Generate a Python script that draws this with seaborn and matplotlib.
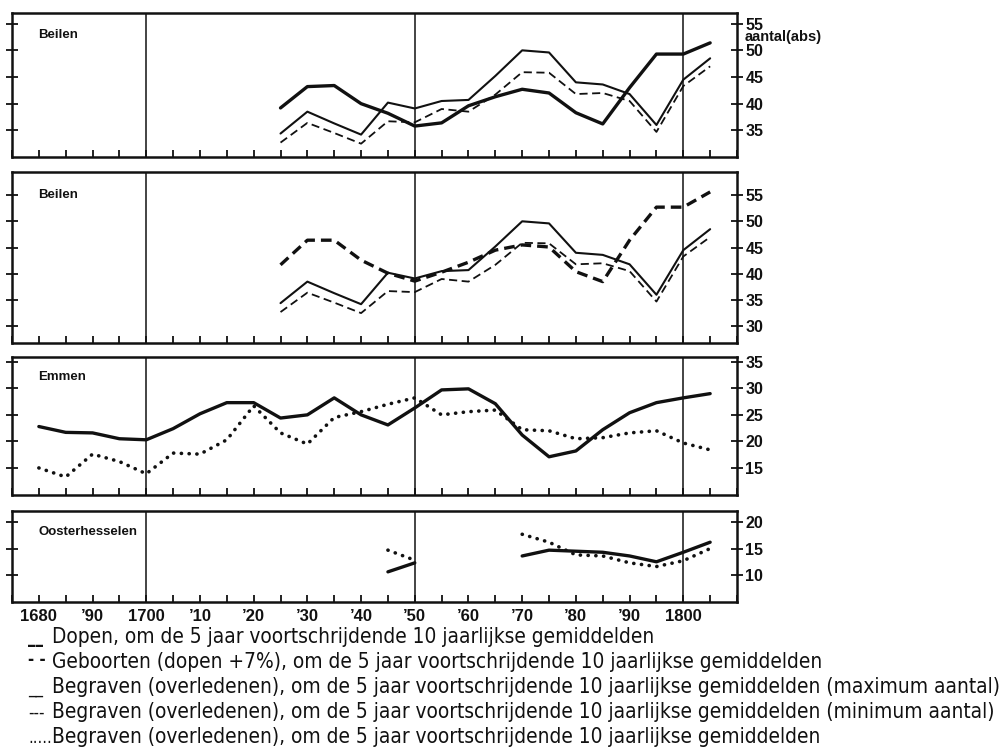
import numpy as np
import pandas as pd
import matplotlib
matplotlib.use("Agg")
import matplotlib.pyplot as plt
import seaborn as sns
from matplotlib import font_manager
from matplotlib.ticker import FixedLocator, MultipleLocator, NullFormatter

# ---------------- data ----------------
years = list(range(1680, 1810, 5))
beilen_years = list(range(1725, 1810, 5))
beilen_dopen = [39.2, 43.2, 43.4, 40.0, 38.2, 35.8, 36.4, 39.6, 41.3, 42.7,
                42.0, 38.3, 36.2, 43.0, 49.3, 49.3, 51.4]
beilen_geboorten = [41.7, 46.4, 46.4, 42.6, 40.1, 38.6, 40.3, 42.2, 44.5, 45.5,
                    45.1, 40.4, 38.5, 46.4, 52.7, 52.7, 55.6]
beilen_begr_max = [34.4, 38.5, 36.3, 34.2, 40.2, 39.1, 40.5, 40.7, 45.2, 50.0,
                   49.6, 44.0, 43.6, 41.8, 36.0, 44.5, 48.5]
beilen_begr_min = [32.7, 36.4, 34.5, 32.5, 36.7, 36.5, 39.0, 38.5, 41.7, 45.9,
                   45.8, 41.8, 42.0, 40.5, 34.7, 43.3, 47.0]
emmen_dopen = [22.8, 21.7, 21.6, 20.5, 20.3, 22.4, 25.2, 27.3, 27.3, 24.4,
               25.0, 28.2, 25.0, 23.1, 26.3, 29.7, 29.9, 27.1, 21.2, 17.1,
               18.2, 22.2, 25.4, 27.3, 28.2, 29.0]
emmen_begraven = [15.0, 13.3, 17.6, 16.2, 13.9, 17.8, 17.6, 20.3, 26.7, 21.6,
                  19.5, 24.5, 25.6, 27.0, 28.2, 25.0, 25.6, 25.9, 22.2, 22.0,
                  20.5, 20.7, 21.6, 22.0, 19.7, 18.4]
oost_years = [1745, 1750, 1770, 1775, 1780, 1785, 1790, 1795, 1800, 1805]
oost_dopen = [10.6, 12.3, 13.6, 14.7, 14.5, 14.3, 13.6, 12.5, 14.3, 16.2]
oost_begraven = [14.7, 12.8, 17.7, 16.2, 13.8, 13.6, 12.3, 11.6, 12.7, 15.0]

panel_names = ["Beilen", "Beilen", "Emmen", "Oosterhesselen"]
panel_yticks = [[35, 40, 45, 50, 55], [30, 35, 40, 45, 50, 55],
                [15, 20, 25, 30, 35], [10, 15, 20]]
panel_ylims = [(30.0, 57.0), (26.8, 59.4), (9.9, 35.9), (4.9, 22.1)]
x_label_years = [1680, 1690, 1700, 1710, 1720, 1730, 1740, 1750, 1760,
                 1770, 1780, 1790, 1800]
x_labels = ["1680", "\u201990", "1700", "\u201910", "\u201920", "\u201930",
            "\u201940", "\u201950", "\u201960", "\u201970", "\u201980",
            "\u201990", "1800"]
ref_years = [1700, 1750, 1800]
legend_texts = [
    "Dopen, om de 5 jaar voortschrijdende 10 jaarlijkse gemiddelden",
    "Geboorten (dopen +7%), om de 5 jaar voortschrijdende 10 jaarlijkse gemiddelden",
    "Begraven (overledenen), om de 5 jaar voortschrijdende 10 jaarlijkse gemiddelden (maximum aantal)",
    "Begraven (overledenen), om de 5 jaar voortschrijdende 10 jaarlijkse gemiddelden (minimum aantal)",
    "Begraven (overledenen), om de 5 jaar voortschrijdende 10 jaarlijkse gemiddelden",
]
legend_marks = ["__", "- -", "__", "---", "....."]

# ---------------- style ----------------
sns.set_style("white")
names = {f.name for f in font_manager.fontManager.ttflist}
base_font = "Liberation Sans" if "Liberation Sans" in names else "DejaVu Sans"
if "Liberation Sans Narrow" in names:
    narrow_kw = dict(family=["Liberation Sans Narrow", "DejaVu Sans"])
else:
    has_cond = any(f.name == "DejaVu Sans" and f.stretch == "condensed"
                   for f in font_manager.fontManager.ttflist)
    if has_cond:
        narrow_kw = dict(family=["DejaVu Sans"], fontstretch="condensed")
    else:
        narrow_kw = dict(family=[base_font, "DejaVu Sans"])
plt.rcParams["font.family"] = [base_font, "DejaVu Sans"]

W, H = 1005, 751
fig = plt.figure(figsize=(W / 100, H / 100), dpi=100)
fig.patch.set_facecolor("white")

# panel pixel extents (top, bottom)
left_px, right_px = 12, 737
extents = [(13, 157), (172, 343), (357, 495), (511, 602)]

INK = "#111111"
thick = dict(color=INK, linewidth=2.4, solid_capstyle="round")
thin = dict(color=INK, linewidth=1.5)
thick_dash = dict(color=INK, linewidth=2.4, linestyle=(0, (3.2, 1.8)))
thin_dash = dict(color=INK, linewidth=1.3, linestyle=(0, (4.5, 2.5)))
dotted = dict(color=INK, linewidth=2.6, linestyle=(0, (0.05, 2.1)),
              dash_capstyle="round")


def draw(ax, x, y, **kw):
    df = pd.DataFrame({"x": x, "y": y})
    seg = (df["x"].diff() > 5).cumsum()
    for _, part in df.groupby(seg):
        sns.lineplot(data=part, x="x", y="y", ax=ax, estimator=None,
                     sort=False, legend=False, **kw)


axes = []
for i, (top, bot) in enumerate(extents):
    ax = fig.add_axes([left_px / W, 1 - bot / H, (right_px - left_px) / W,
                       (bot - top) / H])
    axes.append(ax)
    ax.set_facecolor("white")
    for s in ax.spines.values():
        s.set_visible(True)
        s.set_linewidth(1.8)
        s.set_color(INK)
    for yr in ref_years:
        ax.axvline(yr, color=INK, linewidth=1.1, zorder=1)

draw(axes[0], beilen_years, beilen_dopen, **thick)
draw(axes[0], beilen_years, beilen_begr_max, **thin)
draw(axes[0], beilen_years, beilen_begr_min, **thin_dash)

draw(axes[1], beilen_years, beilen_geboorten, **thick_dash)
draw(axes[1], beilen_years, beilen_begr_max, **thin)
draw(axes[1], beilen_years, beilen_begr_min, **thin_dash)

draw(axes[2], years, emmen_dopen, **thick)
draw(axes[2], years, emmen_begraven, **dotted)

draw(axes[3], oost_years, oost_dopen, **thick)
draw(axes[3], oost_years, oost_begraven, **dotted)

label_y = [0.847, 0.865, 0.855, 0.77]
for i, ax in enumerate(axes):
    ax.set_xlim(1675, 1810)
    ax.set_ylim(*panel_ylims[i])
    ax.set_xlabel("")
    ax.set_ylabel("")
    ax.xaxis.set_major_locator(FixedLocator(x_label_years))
    ax.xaxis.set_minor_locator(MultipleLocator(5))
    ax.tick_params(axis="x", which="both", direction="in", length=5,
                   width=1.3, color=INK, bottom=True, top=False)
    if i == len(axes) - 1:
        ax.set_xticklabels(x_labels)
        ax.tick_params(axis="x", which="major", labelsize=12, pad=5,
                       labelcolor=INK)
        for t in ax.get_xticklabels():
            t.set_fontweight("bold")
    else:
        ax.xaxis.set_major_formatter(NullFormatter())
    ax.set_yticks(panel_yticks[i])
    ax.set_yticklabels([str(v) for v in panel_yticks[i]])
    ax.tick_params(axis="y", which="major", direction="inout", length=8,
                   width=1.3, color=INK, left=True, right=True,
                   labelleft=False, labelright=True, labelsize=11.5, pad=2,
                   labelcolor=INK)
    for t in ax.get_yticklabels():
        t.set_fontweight("bold")
    ax.text(0.036, label_y[i], panel_names[i], transform=ax.transAxes,
            fontsize=9.5, fontweight="bold", ha="left", va="center",
            color=INK)

axes[0].text(1.011, 0.83, "aantal(abs)", transform=axes[0].transAxes,
             fontsize=10.5, fontweight="bold", ha="left", va="center",
             color=INK)

# legend lines below
legend_y = [637, 662, 687, 712, 737]
renderer = fig.canvas.get_renderer()
texts = []
for k, (mk, txt) in enumerate(zip(legend_marks, legend_texts)):
    yy = 1 - legend_y[k] / H
    yb = 1 - (legend_y[k] + 6) / H
    fig.text(28 / W, yb if k != 1 else yb + 3 / H, mk, fontsize=12,
             fontweight="bold" if k < 2 else "normal", ha="left",
             va="baseline", color=INK, **narrow_kw)
    t = fig.text(52 / W, yy, txt, fontsize=13, ha="left", va="center",
                 color=INK, **narrow_kw)
    texts.append(t)
w = texts[2].get_window_extent(renderer).width
scale = (999 - 52) / w
for t in texts:
    t.set_fontsize(13 * scale)

fig.savefig("out.png", dpi=100, facecolor="white")
